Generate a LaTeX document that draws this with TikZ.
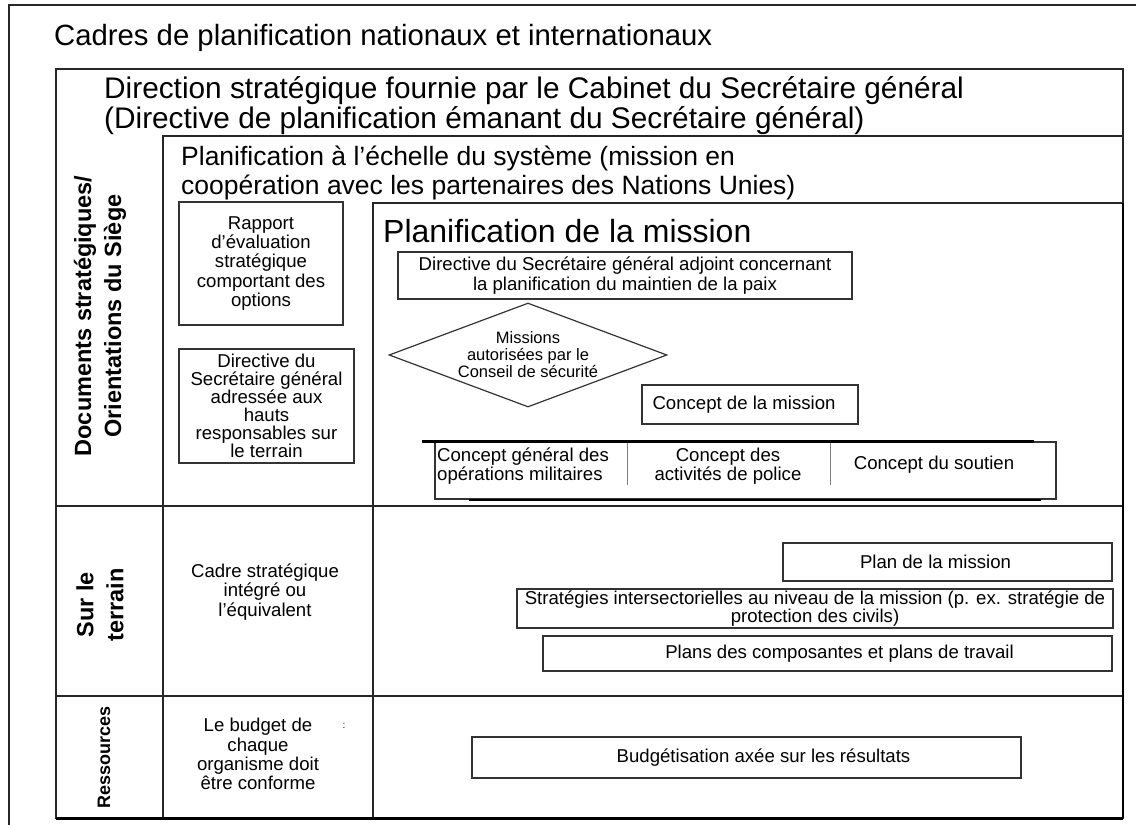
\documentclass[tikz,border=0pt]{standalone}
\usepackage{fontspec}
\setmainfont{Liberation Sans}
\usetikzlibrary{shapes.geometric,positioning}
\newcommand{\boxfont}{\fontsize{18.6}{19.2}\selectfont}
\newcommand{\bigfont}{\fontsize{29.8}{30}\selectfont}

\begin{document}
\begin{tikzpicture}[x=1pt, y=-1pt,
    frame/.style={draw=black!85, line width=1.8pt},
    box/.style={draw=black!80, line width=1.2pt, align=center, font=\boxfont, inner sep=0pt},
    plain/.style={align=center, font=\boxfont, inner sep=0pt},
    side/.style={rotate=90, align=center, font=\fontsize{23.5}{30}\selectfont\bfseries},
    head/.style={anchor=west, align=left, inner sep=0pt}]
  \useasboundingbox (0,0) rectangle (1136,825);
  % frames
  \draw[frame] (9,825) -- (9,5) -- (1136,5);
  \draw[frame] (56,818) rectangle (1123,69);
  \draw[frame] (163,818) -- (163,136) -- (1123,136);
  \draw[frame] (373,818) -- (373,203) -- (1123,203);
  \draw[frame, line width=1.4pt] (56,506) -- (1123,506);
  \draw[frame, line width=1.4pt] (56,696) -- (1123,696);
  \draw[line width=3pt] (56,818) -- (1123,818);
  \draw[line width=2.4pt] (1123,203) -- (1123,818);
  % headings
  \node[head, font=\fontsize{29.3}{32}\selectfont] (cadres) at (54,38) {Cadres de planification nationaux et internationaux};
  \node[head, font=\bigfont] (direction) at (104,106) {Direction stratégique fournie par le Cabinet du Secrétaire général\\(Directive de planification émanant du Secrétaire général)};
  \node[head, font=\fontsize{26.5}{29}\selectfont] (systeme) at (181,173) {Planification à l’échelle du système (mission en\\coopération avec les partenaires des Nations Unies)};
  \node[head, font=\fontsize{32}{34}\selectfont] (mission) at (383,231) {Planification de la mission};
  % rows
  \node[side] (docs) at (100,316) {Documents stratégiques/\\Orientations du Siège};
  \node[side] (terrain) at (100,605) {Sur le\\terrain};
  \node[side, font=\fontsize{18}{20}\selectfont\bfseries] (ressources) at (104,757) {Ressources};
  % siege
  \node[box, minimum width=164pt, minimum height=123pt] (rapport) at (261,263.5) {Rapport\\d’évaluation\\stratégique\\comportant des\\options};
  \node[box, minimum width=175pt, minimum height=114pt, font=\fontsize{18.6}{18}\selectfont] (dirsg) at (266.5,406) {Directive du\\Secrétaire général\\adressée aux\\hauts\\responsables sur\\le terrain};
  \node[box, minimum width=454pt, minimum height=47pt] (dirsga) at (625,275.5) {Directive du Secrétaire général adjoint concernant\\la planification du maintien de la paix};
  \node[box, diamond, minimum width=278pt, minimum height=104pt, aspect=2.67, font=\fontsize{16.5}{17}\selectfont] (autorisees) at (528,355) {Missions\\autorisées par le\\Conseil de sécurité};
  \node[box, minimum width=216pt, minimum height=39pt] (concept) at (750,404.5) {};
  \node[plain] (concepttxt) at ([xshift=-6pt]concept.center) {Concept de la mission};
  \node[box, minimum width=621pt, minimum height=57pt] (concepts) at (745.5,470.5) {};
  \draw[line width=2.4pt] ([xshift=-12pt]concepts.north west) -- ([xshift=-23pt]concepts.north east);
  \draw[line width=2pt] ([xshift=35pt]concepts.south west) -- ([xshift=-16pt]concepts.south east);
  \draw[gray, line width=1pt] (627,443) -- (627,485);
  \draw[gray, line width=1pt] (830,443) -- (830,485);
  \node[plain, anchor=west, align=left] (cgo) at (437,466) {Concept général des\\opérations militaires};
  \node[plain] (cpol) at (728,466) {Concept des\\activités de police};
  \node[plain] (csout) at (934,465) {Concept du soutien};
  % terrain
  \node[plain] (cadre) at (265,592) {Cadre stratégique\\intégré ou\\l’équivalent};
  \node[box, minimum width=329pt, minimum height=38pt] (plan) at (947.5,562) {};
  \node[plain] (plantxt) at ([xshift=-12pt]plan.center) {Plan de la mission};
  \node[box, minimum width=596pt, minimum height=39pt, font=\fontsize{18.6}{17}\selectfont] (strat) at (815,608.5) {Stratégies intersectorielles au niveau de la mission (p. ex. stratégie de\\protection des civils)};
  \node[box, minimum width=569pt, minimum height=35pt] (composantes) at (827.5,653.5) {};
  \node[plain] (compotxt) at ([xshift=12pt]composantes.center) {Plans des composantes et plans de travail};
  % ressources
  \node[plain] (budgetorg) at (258,754) {Le budget de\\chaque\\organisme doit\\être conforme};
  \node[font=\fontsize{10}{10}\selectfont, text=blue!60!black, inner sep=0pt] (colon) at (344,726) {:};
  \node[box, minimum width=549pt, minimum height=41pt] (budget) at (746.5,757.5) {};
  \node[plain] (budgettxt) at ([xshift=17pt]budget.center) {Budgétisation axée sur les résultats};
\end{tikzpicture}
\end{document}
